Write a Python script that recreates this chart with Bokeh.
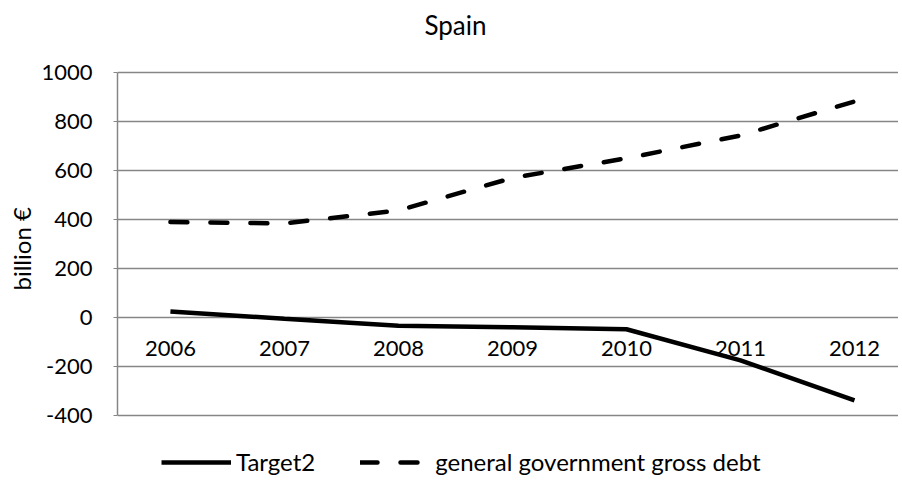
from bokeh.plotting import figure
from bokeh.models import Range1d, FixedTicker, Legend, LegendItem, Title, Label
from bokeh.core.properties import value
from bokeh.embed import file_html
from bokeh.resources import INLINE

years = [2006, 2007, 2008, 2009, 2010, 2011, 2012]
year_labels = ["2006", "2007", "2008", "2009", "2010", "2011", "2012"]
target2 = [25, -5, -34, -40, -48, -175, -338]
gov_debt = [390, 384, 437, 570, 650, 743, 882]
y_ticks = [-400, -200, 0, 200, 400, 600, 800, 1000]
y_tick_labels = {t: str(t) for t in y_ticks}
zeros = [0] * len(years)

FONT = "Lato"
GRID = "#868686"

p = figure(width=898, height=476, output_backend="svg", toolbar_location=None,
           x_axis_location=None,
           x_range=Range1d(2005.536, 2012.386), y_range=Range1d(-649, 1294),
           min_border_left=117, min_border_top=0, min_border_bottom=0, min_border_right=0)
p.outline_line_color = None
p.background_fill_color = "white"
p.border_fill_color = "white"

p.xgrid.visible = False

p.yaxis.ticker = FixedTicker(ticks=y_ticks)
p.yaxis.major_label_overrides = y_tick_labels
p.yaxis.bounds = (-400, 1000)
p.yaxis.axis_line_color = GRID
p.yaxis.axis_line_width = 1.5
p.yaxis.major_tick_line_color = GRID
p.yaxis.major_tick_out = 4
p.yaxis.major_tick_in = 0
p.yaxis.minor_tick_line_color = None
p.yaxis.major_label_text_font = FONT
p.yaxis.major_label_text_font_size = "22px"
p.yaxis.major_label_text_color = "#000000"
p.yaxis.major_label_standoff = 21
p.ygrid.grid_line_color = GRID
p.ygrid.grid_line_width = 1.5

ylab = Title(text="billion €", align="left", offset=186, text_font=FONT,
             text_font_size="24px", text_font_style="normal", text_color="#000000",
             standoff=6)
p.add_layout(ylab, "left")

title = Label(text="Spain", x=338, y=452, x_units="screen", y_units="screen",
              text_align="center", text_baseline="middle", text_font=FONT,
              text_font_size="26px", text_color="#000000")
p.add_layout(title)

p.text(x=years, y=zeros, text=year_labels, text_align="center", text_baseline="middle",
       y_offset=31, text_font=value(FONT), text_font_size="22px", text_color="#000000")

r1 = p.line(years, target2, line_color="black", line_width=4.5)
r2 = p.line(years, gov_debt, line_color="black", line_width=4.5, line_dash="17 23",
            line_cap="round")

legend = Legend(items=[LegendItem(label="Target2", renderers=[r1]),
                       LegendItem(label="general government gross debt", renderers=[r2])],
                orientation="horizontal", location=(44, 0))
legend.glyph_width = 70
legend.glyph_height = 20
legend.label_height = 20
legend.label_standoff = 5
legend.spacing = 45
legend.border_line_color = None
legend.background_fill_alpha = 0
legend.label_text_font = FONT
legend.label_text_font_size = "24px"
legend.label_text_color = "#000000"
legend.padding = 0
legend.margin = 0
p.add_layout(legend)

open("out.html", "w").write(file_html(p, INLINE))
